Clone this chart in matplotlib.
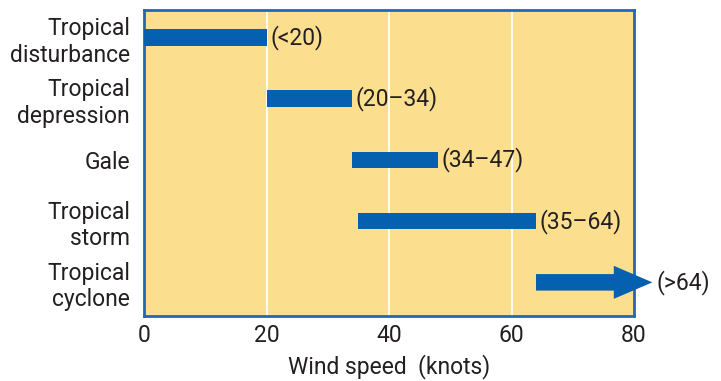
import matplotlib.pyplot as plt
from matplotlib.patches import FancyArrow

plt.rcParams['font.family'] = ['Roboto', 'DejaVu Sans']

categories = ["Tropical\ndisturbance", "Tropical\ndepression", "Gale",
              "Tropical\nstorm", "Tropical\ncyclone"]
starts = [0, 20, 34, 35, 64]
ends = [20, 34, 48, 64, 83]
range_labels = ["(<20)", "(20–34)", "(34–47)", "(35–64)", "(>64)"]
xticks = [0, 20, 40, 60, 80]

BG = "#fbdf8f"
BLUE = "#0660b0"
TEXT = "#231f20"
FS = 16.5

fig = plt.figure(figsize=(7.21, 3.81), dpi=100)
ax = fig.add_axes([144 / 721, 1 - 316 / 381, 490 / 721, 306 / 381])
ax.set_facecolor(BG)
ax.set_xlim(0, 80)
ax.set_ylim(4.55, -0.45)

for x in xticks[1:-1]:
    ax.axvline(x, color="white", lw=1.3, zorder=1)

bh = 0.27
for i, (s, e, lab) in enumerate(zip(starts, ends, range_labels)):
    if i == len(starts) - 1:
        # last one is drawn as an arrow running off the axes
        arr = FancyArrow(s, i, e - s, 0, width=bh, head_width=0.54,
                         head_length=6.3, length_includes_head=True,
                         color=BLUE, clip_on=False, zorder=3, lw=0)
        ax.add_patch(arr)
    else:
        ax.barh(i, e - s, left=s, height=bh, color=BLUE, zorder=3)
    ax.text(e + 0.6, i, lab, va="center", ha="left", fontsize=FS,
            color=TEXT, clip_on=False)

ax.set_yticks(range(len(categories)))
ax.set_yticklabels(categories, fontsize=FS, color=TEXT, linespacing=1.2)
ax.set_xticks(xticks)
ax.set_xticklabels([str(t) for t in xticks], fontsize=FS, color=TEXT)
ax.tick_params(axis="y", length=0, pad=10)
ax.tick_params(axis="x", length=0, pad=6)
ax.set_xlabel("Wind speed  (knots)", fontsize=FS, color=TEXT, labelpad=5)

for sp in ax.spines.values():
    sp.set_color("#1f6ab4")
    sp.set_linewidth(2)

fig.savefig("out.png", dpi=100)
